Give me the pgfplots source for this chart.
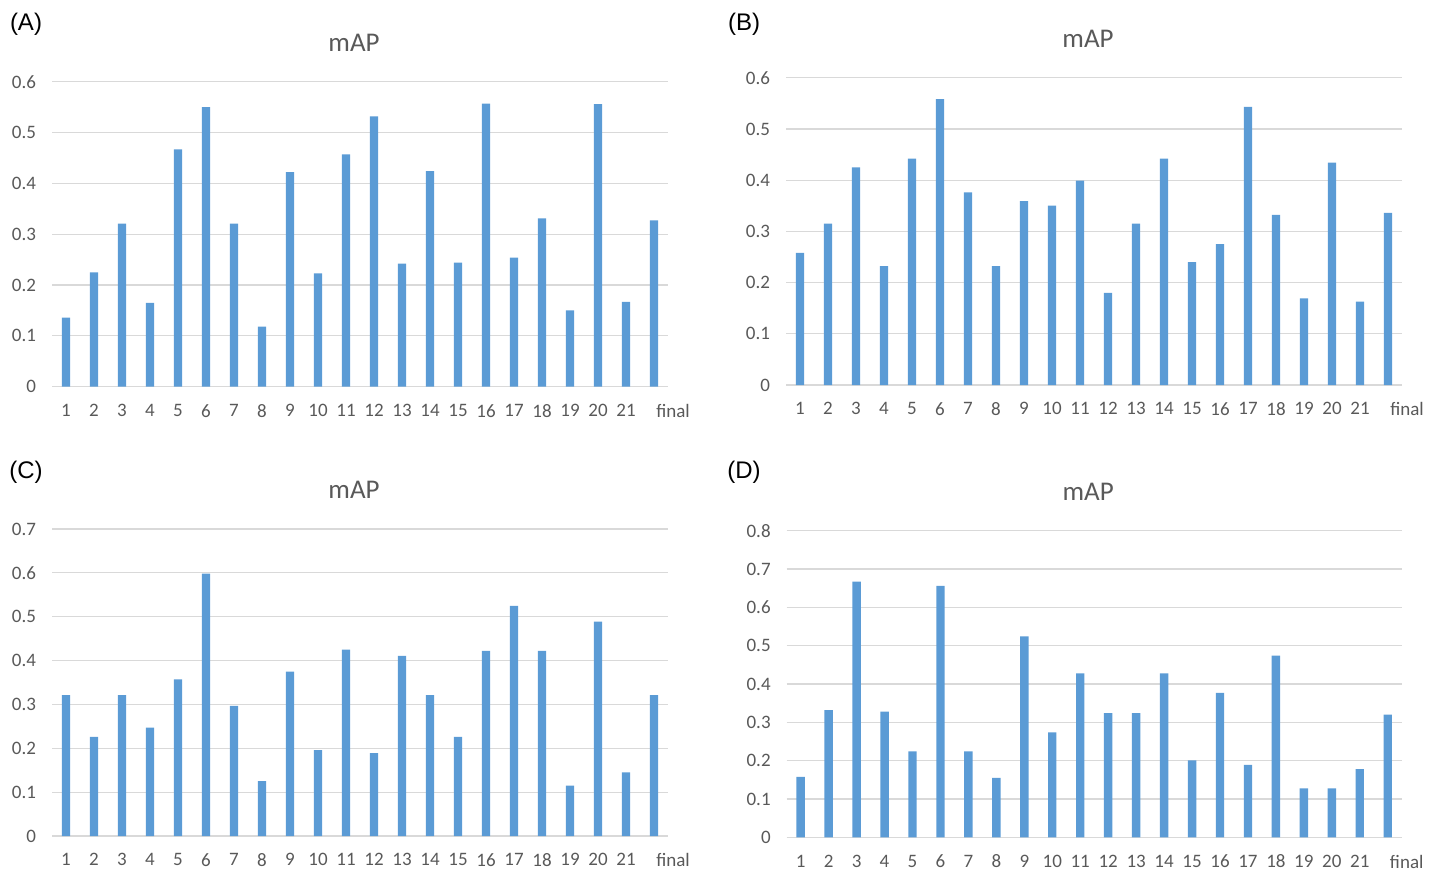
\documentclass[border=0pt]{standalone}
\usepackage{fontspec}
\setmainfont{Carlito}
\newfontfamily\arialfont{Liberation Sans}
\usepackage{pgfplots}
\pgfplotsset{compat=1.18}
\definecolor{barblue}{HTML}{5B9BD5}
\definecolor{txtgray}{HTML}{595959}
\definecolor{gridgray}{HTML}{D9D9D9}
\pgfplotsset{
  mapstyle/.style={
    scale only axis,
    anchor=south west,
    ybar,
    bar width=4.2pt,
    xmin=0.5, xmax=22.5,
    ymin=0,
    xtick={1,...,22},
    xticklabels={1,2,3,4,5,6,7,8,9,10,11,12,13,14,15,16,17,18,19,20,21,{\makebox[0pt]{\hspace{19pt}final}}},
    ytick distance=0.1,
    axis line style={draw=none},
    major tick length=0pt,
    ymajorgrids,
    grid style={gridgray, line width=0.6pt},
    tick label style={font=\fontsize{9.5}{11}\selectfont, text=txtgray},
    /pgf/number format/assume math mode=true,
    yticklabel style={/pgf/number format/fixed, /pgf/number format/precision=1, xshift=-4.5pt},
    xticklabel style={inner sep=1pt, yshift=-7.6pt},
    title={mAP},
    title style={font=\fontsize{13.5}{15}\selectfont, text=txtgray, at={(0.5,1)}, anchor=center, yshift=13.5pt, xshift=-3pt},
    clip=false,
  },
  mapbar/.style={fill=barblue, draw=none},
}
\begin{document}
\begin{tikzpicture}
\useasboundingbox (0,0) rectangle (719.5pt,-435.5pt);
% (A)
\begin{axis}[mapstyle, at={(26pt,-193.35pt)}, width=308pt, height=152.5pt, ymax=0.6]
\addplot[mapbar] coordinates {(1,0.136) (2,0.225) (3,0.321) (4,0.165) (5,0.467) (6,0.550) (7,0.321) (8,0.118) (9,0.422) (10,0.223) (11,0.457) (12,0.532) (13,0.242) (14,0.424) (15,0.244) (16,0.557) (17,0.254) (18,0.331) (19,0.150) (20,0.556) (21,0.167) (22,0.327)};
\end{axis}
% (B)
\begin{axis}[mapstyle, at={(393pt,-192.5pt)}, width=308pt, height=153.65pt, ymax=0.6]
\addplot[mapbar] coordinates {(1,0.258) (2,0.315) (3,0.425) (4,0.232) (5,0.442) (6,0.558) (7,0.376) (8,0.232) (9,0.359) (10,0.350) (11,0.399) (12,0.180) (13,0.315) (14,0.442) (15,0.240) (16,0.275) (17,0.543) (18,0.332) (19,0.169) (20,0.434) (21,0.163) (22,0.336)};
\end{axis}
% (C)
\begin{axis}[mapstyle, at={(26pt,-418pt)}, width=308pt, height=153.5pt, ymax=0.7]
\addplot[mapbar] coordinates {(1,0.321) (2,0.226) (3,0.321) (4,0.247) (5,0.357) (6,0.598) (7,0.297) (8,0.125) (9,0.375) (10,0.196) (11,0.425) (12,0.189) (13,0.411) (14,0.321) (15,0.226) (16,0.422) (17,0.525) (18,0.422) (19,0.115) (20,0.489) (21,0.145) (22,0.321)};
\end{axis}
% (D)
\begin{axis}[mapstyle, at={(393.35pt,-418.65pt)}, width=307.5pt, height=153.3pt, ymax=0.8]
\addplot[mapbar] coordinates {(1,0.158) (2,0.332) (3,0.667) (4,0.328) (5,0.224) (6,0.656) (7,0.224) (8,0.155) (9,0.524) (10,0.274) (11,0.428) (12,0.324) (13,0.324) (14,0.428) (15,0.201) (16,0.377) (17,0.189) (18,0.474) (19,0.128) (20,0.128) (21,0.178) (22,0.320)};
\end{axis}
\node[font=\arialfont\fontsize{12}{14}\selectfont] at (13pt,-12pt) {(A)};
\node[font=\arialfont\fontsize{12}{14}\selectfont] at (372pt,-12pt) {(B)};
\node[font=\arialfont\fontsize{12}{14}\selectfont] at (13pt,-236pt) {(C)};
\node[font=\arialfont\fontsize{12}{14}\selectfont] at (372pt,-236pt) {(D)};
\end{tikzpicture}
\end{document}
